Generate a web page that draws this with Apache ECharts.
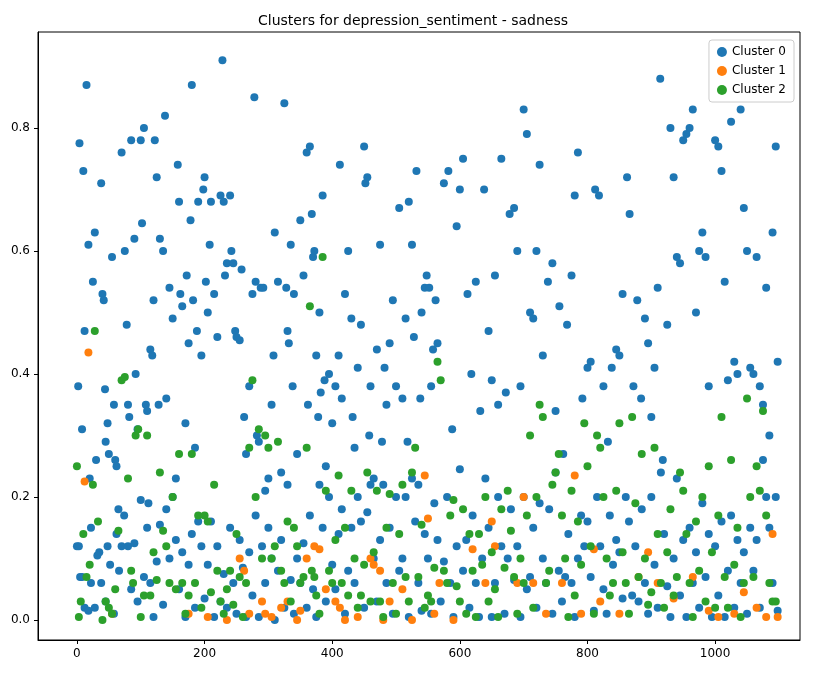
<!DOCTYPE html>
<html><head><meta charset="utf-8">
<script src="https://cdn.jsdelivr.net/npm/echarts@6/dist/echarts.min.js"></script>
<style>html,body{margin:0;padding:0;background:#fff}#c{width:826px;height:682px}</style>
</head><body><div id="c"></div>
<script>
const title = "Clusters for depression_sentiment - sadness";
const seriesNames = ["Cluster 0","Cluster 1","Cluster 2"];
const xTicks = [0,200,400,600,800,1000];
const yTicks = [0,0.2,0.4,0.6,0.8];
const cluster0High = [[2,0.38],[4,0.775],[0,0.12],[5,0.07],[8,0.31],[10,0.73],[12,0.47],[15,0.87],[18,0.61],[20,0.23],[22,0.15],[25,0.55],[28,0.63],[30,0.26],[35,0.11],[38,0.71],[40,0.53],[42,0.52],[44,0.375],[45,0.29],[48,0.32],[50,0.27],[55,0.59],[58,0.35],[60,0.26],[62,0.25],[65,0.18],[70,0.76],[75,0.6],[78,0.48],[80,0.35],[82,0.33],[85,0.78],[90,0.62],[92,0.4],[95,0.31],[100,0.78],[102,0.645],[105,0.8],[108,0.35],[110,0.34],[112,0.19],[115,0.44],[118,0.43],[120,0.52],[122,0.78],[125,0.72],[128,0.35],[130,0.62],[135,0.6],[138,0.82],[140,0.36],[145,0.54],[150,0.49],[155,0.23],[158,0.74],[160,0.68],[162,0.53],[165,0.51],[170,0.32],[172,0.56],[175,0.45],[178,0.65],[180,0.87],[182,0.52],[185,0.28],[188,0.47],[190,0.68],[195,0.43],[198,0.7],[200,0.72],[202,0.55],[205,0.5],[208,0.61],[210,0.68],[215,0.53],[220,0.46],[225,0.69],[228,0.91],[230,0.68],[232,0.56],[235,0.58],[240,0.69],[242,0.6],[245,0.58],[248,0.47],[250,0.46],[255,0.455],[258,0.57],[262,0.33],[265,0.27],[270,0.38],[275,0.53],[278,0.85],[280,0.55],[282,0.3],[285,0.29],[288,0.54],[292,0.54],[295,0.21],[300,0.23],[305,0.35],[308,0.43],[310,0.63],[315,0.55],[320,0.24],[325,0.84],[328,0.54],[330,0.47],[332,0.45],[335,0.61],[338,0.38],[340,0.53],[345,0.27],[350,0.65],[355,0.56],[360,0.76],[362,0.35],[365,0.77],[368,0.66],[370,0.59],[372,0.6],[375,0.43],[378,0.33],[380,0.5],[382,0.37],[385,0.69],[388,0.39],[390,0.25],[395,0.4],[400,0.32],[405,0.38],[410,0.43],[412,0.74],[415,0.36],[420,0.53],[425,0.6],[430,0.49],[432,0.33],[435,0.28],[440,0.41],[445,0.48],[450,0.77],[452,0.71],[455,0.72],[458,0.3],[460,0.38],[465,0.23],[470,0.44],[475,0.61],[478,0.29],[482,0.41],[485,0.35],[490,0.45],[495,0.52],[500,0.38],[505,0.67],[510,0.36],[515,0.49],[518,0.29],[520,0.68],[525,0.61],[528,0.46],[532,0.73],[535,0.22],[538,0.36],[540,0.5],[545,0.54],[548,0.56],[552,0.54],[555,0.38],[558,0.44],[562,0.52],[565,0.45],[575,0.71],[582,0.73],[588,0.31],[595,0.64],[600,0.7],[605,0.75],[612,0.53],[618,0.4],[625,0.55],[632,0.34],[638,0.7],[645,0.47],[650,0.39],[655,0.56],[660,0.35],[665,0.75],[672,0.37],[678,0.66],[685,0.67],[690,0.6],[695,0.38],[700,0.83],[705,0.79],[710,0.5],[715,0.49],[720,0.6],[725,0.74],[730,0.43],[738,0.55],[745,0.58],[750,0.34],[756,0.51],[762,0.27],[768,0.48],[775,0.56],[780,0.69],[785,0.76],[792,0.36],[800,0.41],[805,0.42],[812,0.7],[818,0.69],[825,0.38],[832,0.29],[838,0.41],[845,0.44],[850,0.43],[855,0.53],[862,0.72],[866,0.66],[872,0.38],[878,0.52],[884,0.36],[890,0.49],[895,0.45],[900,0.33],[905,0.41],[910,0.54],[914,0.88],[918,0.26],[925,0.48],[930,0.8],[935,0.72],[940,0.59],[945,0.58],[950,0.78],[955,0.79],[960,0.8],[965,0.83],[970,0.5],[975,0.6],[980,0.63],[985,0.59],[990,0.38],[1000,0.78],[1005,0.77],[1010,0.73],[1015,0.55],[1020,0.39],[1025,0.81],[1030,0.42],[1035,0.4],[1040,0.83],[1045,0.67],[1050,0.6],[1055,0.41],[1060,0.4],[1065,0.59],[1070,0.38],[1075,0.35],[1080,0.54],[1085,0.3],[1090,0.63],[1095,0.77],[1098,0.42]];
const cluster0Low = [[3,0.12],[8,0.07],[12,0.02],[18,0.015],[22,0.06],[28,0.02],[32,0.105],[38,0.06],[45,0.03],[48,0.12],[52,0.09],[58,0.01],[62,0.14],[66,0.08],[70,0.12],[74,0.17],[80,0.12],[85,0.05],[90,0.125],[95,0.03],[100,0.195],[105,0.07],[110,0.15],[115,0.06],[120,0.005],[125,0.095],[130,0.155],[135,0.025],[140,0.18],[145,0.1],[150,0.2],[155,0.13],[160,0.05],[165,0.11],[170,0.005],[175,0.09],[180,0.14],[185,0.02],[190,0.16],[195,0.12],[200,0.035],[205,0.09],[210,0.16],[215,0.005],[220,0.12],[225,0.03],[230,0.075],[235,0.02],[240,0.15],[245,0.06],[250,0.01],[255,0.13],[260,0.085],[265,0.005],[270,0.11],[275,0.04],[280,0.17],[285,0.005],[290,0.12],[295,0.06],[300,0.15],[305,0.1],[310,0.0],[315,0.08],[320,0.13],[325,0.02],[330,0.22],[335,0.065],[340,0.01],[345,0.1],[350,0.06],[355,0.125],[360,0.02],[365,0.17],[370,0.05],[375,0.005],[380,0.22],[385,0.15],[390,0.03],[395,0.2],[400,0.09],[405,0.05],[410,0.14],[415,0.18],[420,0.01],[425,0.08],[430,0.15],[435,0.06],[440,0.2],[445,0.16],[450,0.02],[455,0.175],[460,0.22],[465,0.1],[470,0.03],[475,0.13],[480,0.22],[485,0.06],[490,0.15],[495,0.01],[500,0.2],[505,0.08],[510,0.1],[515,0.2],[520,0.005],[525,0.23],[530,0.16],[535,0.06],[540,0.015],[545,0.14],[550,0.1],[555,0.01],[560,0.19],[565,0.13],[570,0.03],[575,0.095],[580,0.2],[585,0.06],[590,0.005],[595,0.12],[600,0.245],[605,0.08],[610,0.13],[615,0.02],[620,0.17],[625,0.06],[630,0.005],[635,0.1],[640,0.23],[645,0.15],[650,0.005],[655,0.06],[660,0.2],[665,0.12],[670,0.01],[675,0.1],[680,0.18],[685,0.065],[690,0.12],[695,0.005],[700,0.2],[705,0.05],[710,0.07],[715,0.15],[720,0.02],[725,0.19],[730,0.1],[735,0.06],[740,0.18],[745,0.01],[750,0.24],[755,0.08],[760,0.03],[765,0.07],[770,0.14],[775,0.06],[780,0.005],[785,0.1],[790,0.17],[795,0.12],[800,0.16],[805,0.07],[810,0.015],[815,0.2],[820,0.12],[825,0.05],[830,0.01],[835,0.17],[840,0.09],[845,0.13],[850,0.11],[855,0.035],[860,0.2],[865,0.16],[870,0.04],[875,0.12],[880,0.03],[885,0.18],[890,0.06],[895,0.01],[900,0.2],[905,0.09],[910,0.02],[915,0.24],[920,0.14],[925,0.055],[930,0.005],[935,0.1],[940,0.23],[945,0.04],[950,0.13],[955,0.005],[960,0.15],[965,0.06],[970,0.11],[975,0.02],[980,0.19],[985,0.07],[990,0.14],[995,0.005],[1000,0.12],[1005,0.04],[1010,0.16],[1015,0.005],[1020,0.08],[1025,0.17],[1030,0.02],[1035,0.13],[1040,0.06],[1045,0.11],[1050,0.01],[1055,0.15],[1060,0.08],[1065,0.13],[1070,0.02],[1075,0.26],[1080,0.2],[1085,0.15],[1090,0.06],[1095,0.2],[1098,0.015]];
const cluster1 = [[12,0.225],[18,0.435],[55,0.01],[175,0.01],[205,0.005],[235,0.0],[255,0.1],[262,0.08],[270,0.01],[290,0.03],[295,0.01],[305,0.005],[320,0.02],[330,0.03],[345,0.0],[350,0.015],[360,0.1],[372,0.12],[380,0.115],[390,0.05],[405,0.03],[412,0.02],[420,0.0],[440,0.005],[460,0.1],[465,0.09],[475,0.08],[480,0.0],[490,0.03],[510,0.05],[525,0.0],[545,0.235],[550,0.165],[560,0.01],[568,0.06],[590,0.0],[620,0.115],[640,0.06],[650,0.16],[655,0.12],[690,0.06],[700,0.2],[715,0.06],[735,0.01],[760,0.06],[780,0.235],[790,0.01],[810,0.115],[820,0.03],[850,0.01],[880,0.07],[895,0.11],[910,0.06],[935,0.035],[965,0.07],[990,0.015],[1005,0.005],[1030,0.01],[1045,0.045],[1065,0.02],[1080,0.005],[1090,0.14],[1098,0.005]];
const cluster2 = [[0,0.25],[3,0.005],[6,0.03],[10,0.14],[15,0.07],[20,0.09],[25,0.22],[28,0.47],[33,0.16],[40,0.0],[45,0.03],[50,0.02],[55,0.01],[60,0.05],[65,0.145],[70,0.39],[75,0.395],[80,0.23],[85,0.08],[88,0.06],[92,0.3],[96,0.31],[100,0.005],[105,0.04],[110,0.3],[115,0.04],[120,0.11],[125,0.065],[130,0.24],[135,0.145],[140,0.12],[145,0.06],[150,0.2],[155,0.05],[160,0.27],[165,0.06],[170,0.01],[175,0.04],[180,0.27],[185,0.06],[190,0.17],[195,0.02],[200,0.17],[205,0.16],[210,0.045],[215,0.22],[220,0.08],[225,0.03],[230,0.01],[235,0.05],[240,0.08],[245,0.025],[250,0.14],[255,0.07],[260,0.005],[265,0.06],[270,0.28],[275,0.39],[280,0.2],[285,0.31],[290,0.1],[295,0.3],[300,0.28],[305,0.1],[310,0.12],[315,0.29],[320,0.08],[325,0.06],[330,0.16],[335,0.03],[340,0.15],[345,0.12],[350,0.06],[355,0.07],[360,0.28],[365,0.51],[368,0.08],[372,0.07],[375,0.04],[380,0.01],[385,0.59],[390,0.21],[395,0.08],[400,0.06],[405,0.13],[410,0.235],[415,0.06],[420,0.15],[425,0.04],[430,0.21],[435,0.1],[440,0.02],[445,0.04],[450,0.09],[455,0.24],[460,0.03],[465,0.11],[470,0.21],[475,0.03],[480,0.005],[485,0.15],[490,0.205],[495,0.06],[500,0.01],[505,0.14],[510,0.22],[515,0.07],[520,0.03],[525,0.24],[530,0.28],[535,0.07],[540,0.155],[545,0.02],[550,0.04],[555,0.03],[560,0.085],[565,0.42],[570,0.39],[575,0.08],[580,0.06],[585,0.17],[590,0.195],[595,0.055],[600,0.03],[605,0.18],[610,0.01],[615,0.14],[620,0.08],[625,0.005],[630,0.14],[635,0.09],[640,0.2],[645,0.03],[650,0.11],[655,0.05],[660,0.005],[665,0.18],[670,0.085],[675,0.21],[680,0.145],[685,0.07],[690,0.01],[695,0.1],[700,0.06],[705,0.17],[710,0.3],[715,0.02],[720,0.2],[725,0.35],[730,0.33],[735,0.06],[740,0.08],[745,0.22],[750,0.24],[755,0.27],[760,0.17],[765,0.1],[770,0.005],[775,0.21],[780,0.04],[785,0.16],[790,0.09],[795,0.32],[800,0.25],[805,0.12],[810,0.01],[815,0.3],[820,0.28],[825,0.2],[830,0.1],[835,0.04],[840,0.06],[845,0.21],[850,0.32],[855,0.11],[860,0.06],[865,0.01],[870,0.33],[875,0.19],[880,0.07],[885,0.27],[890,0.1],[895,0.025],[900,0.045],[905,0.28],[910,0.14],[915,0.06],[920,0.02],[925,0.11],[930,0.18],[935,0.04],[940,0.07],[945,0.24],[950,0.21],[955,0.14],[960,0.06],[965,0.005],[970,0.16],[975,0.08],[980,0.2],[985,0.03],[990,0.25],[995,0.11],[1000,0.02],[1005,0.17],[1010,0.33],[1015,0.07],[1020,0.02],[1025,0.26],[1030,0.09],[1035,0.15],[1040,0.005],[1045,0.06],[1050,0.36],[1055,0.2],[1060,0.07],[1065,0.25],[1070,0.21],[1075,0.34],[1080,0.17],[1085,0.06],[1090,0.03],[1095,0.03]];
const colors = ["#1f77b4","#ff7f0e","#2ca02c"];
const cluster0 = cluster0High.concat(cluster0Low);

const chart = echarts.init(document.getElementById('c'));
const lbl = {color:'#000',fontSize:12,fontFamily:'DejaVu Sans'};
chart.setOption({
  animation:false,
  color:colors,
  title:{text:title,left:'center',top:9,textStyle:{fontFamily:'DejaVu Sans',fontWeight:'normal',fontSize:14,color:'#000'}},
  legend:{data:seriesNames,orient:'vertical',right:32,top:40,itemWidth:10,itemHeight:10,itemGap:7,icon:'circle',
    backgroundColor:'rgba(255,255,255,0.8)',borderColor:'#ccc',borderWidth:1,borderRadius:3,padding:[6,8,6,8],
    textStyle:{fontFamily:'DejaVu Sans',fontSize:12,color:'#000'}},
  grid:{left:38,right:26,top:32,bottom:42,show:true,borderColor:'#000',borderWidth:1,containLabel:false},
  xAxis:{type:'value',min:-61,max:1133,
    axisLine:{show:true,onZero:false,lineStyle:{color:'#000'}},splitLine:{show:false},
    axisTick:{show:true,length:4,lineStyle:{color:'#000'},customValues:xTicks},
    axisLabel:Object.assign({customValues:xTicks,formatter:v=>String(v)},lbl)},
  yAxis:{type:'value',min:-0.0325,max:0.956,
    axisLine:{show:true,onZero:false,lineStyle:{color:'#000'}},splitLine:{show:false},
    axisTick:{show:true,length:4,lineStyle:{color:'#000'},customValues:yTicks},
    axisLabel:Object.assign({customValues:yTicks,formatter:v=>v.toFixed(1)},lbl)},
  series:[
    {name:seriesNames[0],type:'scatter',data:cluster0,symbolSize:8,itemStyle:{opacity:1}},
    {name:seriesNames[1],type:'scatter',data:cluster1,symbolSize:8,itemStyle:{opacity:1}},
    {name:seriesNames[2],type:'scatter',data:cluster2,symbolSize:8,itemStyle:{opacity:1}}
  ]
});
</script></body></html>
